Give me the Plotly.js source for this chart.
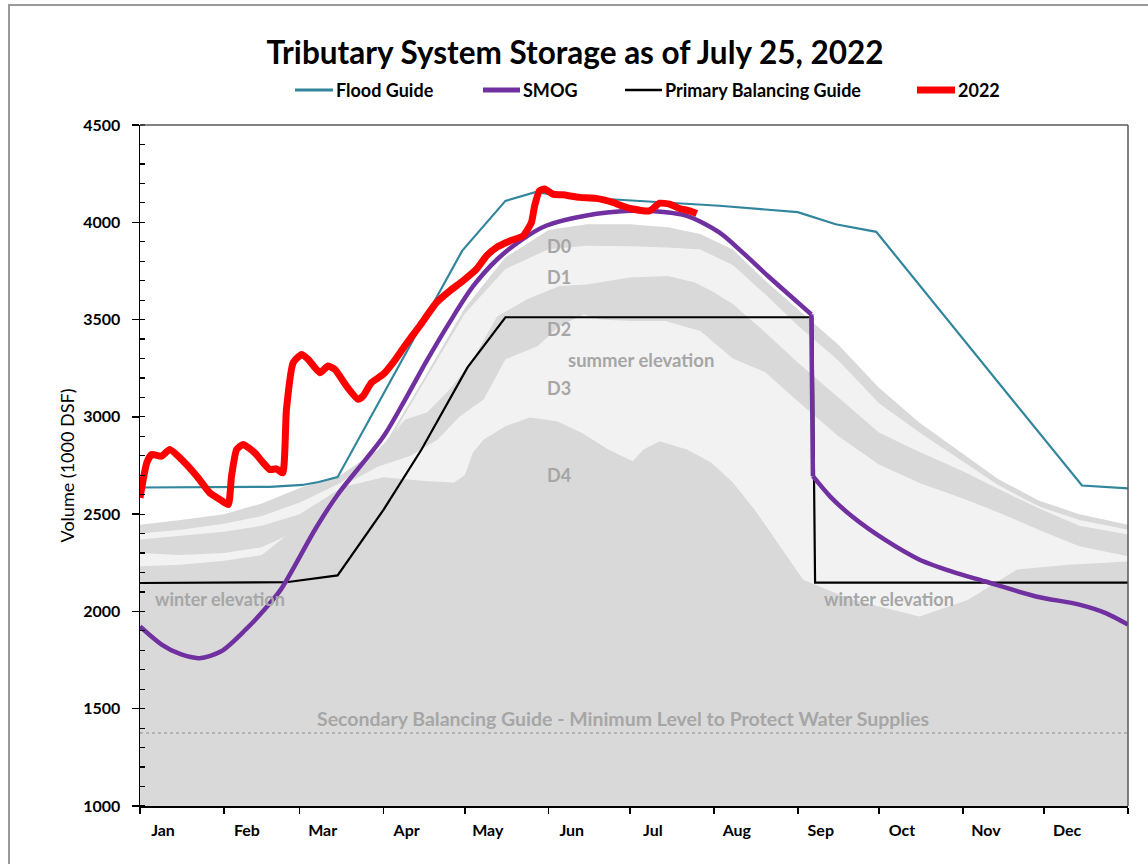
<!DOCTYPE html>
<html>
<head>
<meta charset="utf-8">
<script src="https://cdn.plot.ly/plotly-3.0.1.min.js"></script>
<style>
  html, body { margin: 0; padding: 0; background: #ffffff; }
  #chart { width: 1148px; height: 864px; position: absolute; left: 0; top: 0; }
  #frame { position: absolute; left: 8px; top: 4px; width: 1160px; height: 880px;
           border-left: 2px solid #9a9a9a; border-top: 2px solid #9a9a9a; pointer-events: none; }
</style>
</head>
<body>
<div id="chart"></div>
<div id="frame"></div>
<script>
// ---------------- DATA (day of year, volume in 1000 DSF) ----------------
const monthNames  = ['Jan','Feb','Mar','Apr','May','Jun','Jul','Aug','Sep','Oct','Nov','Dec'];
const monthStarts = [0,31,59,90,120,151,181,212,243,273,304,334,365];

// Flood Guide
const floodDays = [0, 20, 48, 60, 66, 73, 119, 135, 146, 160, 177, 214, 243, 257, 272, 348, 365];
const floodVals = [2637, 2637, 2640, 2650, 2665, 2690, 3853, 4110, 4155, 4130, 4115, 4085, 4052, 3990, 3951, 2647, 2632];

// Primary Balancing Guide
const pbgDays = [0, 54, 73, 90, 104, 121, 135, 248.4, 249.4, 365];
const pbgVals = [2146, 2150, 2185, 2523, 2832, 3254, 3512, 3512, 2148, 2148];

// SMOG (filling season up to the September drop, then drawdown season)
const smogDays = [0,8,15,22,30,39,46,52,65,73,90,98,106,115,123,132,141,150,165,181,189,202,214,223,232,240,248,248.6,255,263,275,288,300,312,331,347,357,365];
const smogVals = [1923,1830,1780,1760,1795,1906,2010,2112,2429,2600,2900,3090,3290,3500,3670,3810,3910,3982,4035,4059,4058,4033,3948,3840,3724,3625,3527,2695,2590,2489,2370,2266,2205,2155,2077,2035,1990,1932];
const smogDropIndex = 27;   // first point after the September drop

// 2022 observed storage
const obsDays = [0,2.5,4.3,8,11,16,21,25.8,29.5,32.6,33.8,35.7,38.1,42.4,45.5,48,50.4,52.7,54.1,56.6,59.7,62.1,66.4,69.5,72,76.3,80.6,82.4,85.5,89.8,93.5,97.8,103.3,109.5,114.4,119.3,124.3,128,131.6,136.6,141.5,144.6,145.8,147.6,149.5,152.5,156.2,162.4,168.5,174.7,178,182,188.2,192,195.6,199.3,203,205.7];
const obsVals = [2584,2764,2807,2798,2832,2772,2695,2609,2575,2549,2695,2832,2858,2815,2764,2729,2733,2712,3038,3279,3321,3296,3227,3261,3244,3158,3090,3107,3176,3218,3279,3364,3467,3587,3647,3699,3759,3827,3870,3904,3930,3999,4085,4162,4171,4145,4141,4128,4123,4102,4085,4068,4059,4098,4093,4071,4059,4045];

// Secondary Balancing Guide
const secDays = [0, 365];
const secVals = [1375, 1375];

// Drought-zone band upper boundaries
const bandDays = [0,15,31,45,59,74,90,105,120,135,151,165,181,195,207,219,231,243,258,273,288,304,317,332,347,365];
const d0Top    = [2446,2470,2500,2555,2635,2700,2850,3200,3560,3820,3960,3990,3990,3975,3940,3860,3700,3555,3370,3150,2970,2810,2680,2570,2500,2446];
const d1Top    = [2400,2420,2450,2490,2560,2660,2830,3180,3530,3760,3862,3879,3877,3870,3860,3780,3630,3470,3290,3070,2920,2770,2650,2540,2470,2420];

const d2Days = [0,15,31,45,59,74,86,98,106,115,123,132,143,155,165,181,195,205,212,219,231,243,258,273,288,304,317,332,347,365];
const d2Top  = [2370,2390,2410,2440,2500,2630,2800,2987,3023,3150,3296,3517,3604,3673,3680,3716,3724,3690,3640,3580,3434,3280,3100,2920,2820,2720,2630,2530,2440,2395];

const d3Days = [0,15,31,45,59,74,88,100,110,118,127,135,147,155,164,170,182,194,207,219,231,243,258,273,288,304,317,332,347,365];
const d3Top  = [2300,2290,2300,2330,2420,2640,2745,2800,2884,3000,3090,3296,3364,3467,3527,3501,3493,3493,3441,3300,3229,3080,2900,2755,2660,2580,2510,2420,2335,2283];

const d4Days = [0,15,31,45,55,65,75,90,105,116,120,123,127,135,144,154,163,173,182,186,192,202,211,219,227,245,263,288,306,324,343,365];
const d4Top  = [2232,2240,2260,2290,2400,2550,2640,2690,2670,2662,2700,2817,2884,2952,2997,2978,2920,2832,2772,2832,2875,2832,2765,2662,2524,2163,2060,1974,2060,2215,2240,2257];

// ---------------- STYLE ----------------
const DARK = '#d9d9d9', LIGHT = '#f2f2f2', LABEL = '#a6a6a6';
const FONT = 'Lato, "Open Sans", "DejaVu Sans", sans-serif';
const L = 140, R = 1128, T = 125, B = 806;
const px = x => (x - L) / (R - L);
const py = y => (B - y) / (B - T);

function band(xs, ys, color) {
  return { x: xs, y: ys, type: 'scatter', mode: 'lines', fill: 'tozeroy',
           fillcolor: color, line: { width: 0, color: color }, hoverinfo: 'skip', showlegend: false };
}
function line(xs, ys, color, width, opts) {
  opts = opts || {};
  return { x: xs, y: ys, type: 'scatter', mode: 'lines',
           line: { color: color, width: width, dash: opts.dash || 'solid',
                   shape: opts.spline ? 'spline' : 'linear', smoothing: opts.spline || 0 },
           showlegend: false };
}

const k = smogDropIndex;
const traces = [
  band(bandDays, d0Top, DARK),
  band(bandDays, d1Top, LIGHT),
  band(d2Days, d2Top, DARK),
  band(d3Days, d3Top, LIGHT),
  band(d4Days, d4Top, DARK),
  line(secDays, secVals, '#a6a6a6', 1.5, { dash: 'dot' }),
  line(floodDays, floodVals, '#31859c', 2.2),
  line(pbgDays, pbgVals, '#000000', 2.2),
  line(smogDays.slice(0, k), smogVals.slice(0, k), '#7030a0', 4.5, { spline: 0.8 }),
  line(smogDays.slice(k - 1, k + 1), smogVals.slice(k - 1, k + 1), '#7030a0', 4.5),
  line(smogDays.slice(k), smogVals.slice(k), '#7030a0', 4.5, { spline: 0.8 }),
  line(obsDays, obsVals, '#ff0000', 7, { spline: 0.5 })
];

const monthTicks = monthNames.map((m, i) => monthStarts[i] + 8.5);

const labelFont = (size) => ({ family: FONT, size: size, color: LABEL, weight: 'bold' });
const annotations = [
  { x: 149.5, y: 3877, text: 'D0', xanchor: 'left', font: labelFont(18) },
  { x: 149.5, y: 3718, text: 'D1', xanchor: 'left', font: labelFont(18) },
  { x: 149.5, y: 3450, text: 'D2', xanchor: 'left', font: labelFont(18) },
  { x: 149.5, y: 3146, text: 'D3', xanchor: 'left', font: labelFont(18) },
  { x: 149.5, y: 2699, text: 'D4', xanchor: 'left', font: labelFont(18) },
  { x: 184.9, y: 3290, text: 'summer elevation', xanchor: 'center', font: labelFont(18.5) },
  { x: 4.8,   y: 2065, text: 'winter elevation', xanchor: 'left', font: labelFont(18) },
  { x: 252,   y: 2065, text: 'winter elevation', xanchor: 'left', font: labelFont(18) },
  { x: 178.6, y: 1448, text: 'Secondary Balancing Guide - Minimum Level to Protect Water Supplies', xanchor: 'center', font: labelFont(19.5) }
].map(a => Object.assign({ xref: 'x', yref: 'y', yanchor: 'middle', showarrow: false }, a));

// custom legend
const legendItems = [
  { x0: 295, x1: 333, color: '#31859c', w: 3,   text: 'Flood Guide' },
  { x0: 483, x1: 520, color: '#7030a0', w: 5,   text: 'SMOG' },
  { x0: 625, x1: 662, color: '#000000', w: 2.5, text: 'Primary Balancing Guide' },
  { x0: 917, x1: 955, color: '#ff0000', w: 7,   text: '2022' }
];
const LEGY = 90;
const shapes = [];
legendItems.forEach(it => {
  shapes.push({ type: 'line', xref: 'paper', yref: 'paper', x0: px(it.x0), x1: px(it.x1), y0: py(LEGY), y1: py(LEGY),
                line: { color: it.color, width: it.w } });
  annotations.push({ xref: 'paper', yref: 'paper', x: px(it.x1 + 1), y: py(LEGY), xanchor: 'left', yanchor: 'middle',
                     showarrow: false, text: it.text, font: { family: FONT, size: 18, color: '#000', weight: 'bold' } });
});
// top / right border of plot area
shapes.push({ type: 'line', xref: 'paper', yref: 'paper', x0: 0, x1: 1, y0: 1, y1: 1, line: { color: '#595959', width: 1.5 } });
shapes.push({ type: 'line', xref: 'paper', yref: 'paper', x0: 1, x1: 1, y0: 0, y1: 1, line: { color: '#595959', width: 1.5 } });

const layout = {
  width: 1148, height: 864,
  margin: { l: L, r: 1148 - R, t: T, b: 864 - B },
  paper_bgcolor: '#ffffff', plot_bgcolor: '#ffffff',
  showlegend: false,
  title: { text: 'Tributary System Storage as of July 25, 2022', xref: 'container', yref: 'container',
           x: 575 / 1148, y: 1 - 53 / 864, xanchor: 'center', yanchor: 'middle',
           font: { family: FONT, size: 31.5, color: '#000', weight: 'bold' } },
  xaxis: {
    range: [0, 365], showgrid: false, zeroline: false,
    showline: true, linecolor: '#000', linewidth: 1.5,
    tickmode: 'array', tickvals: monthTicks, ticktext: monthNames, ticks: '',
    ticklabelstandoff: 9,
    tickfont: { family: FONT, size: 16, color: '#000', weight: 'bold' },
    minor: { tickmode: 'array', tickvals: monthStarts, ticks: 'outside', ticklen: 6, tickwidth: 1.5, tickcolor: '#000' }
  },
  yaxis: {
    range: [1000, 4500], showgrid: false, zeroline: false,
    showline: true, linecolor: '#000', linewidth: 1.5,
    tickmode: 'linear', tick0: 1000, dtick: 500, ticks: 'outside', ticklen: 7, tickwidth: 1.5, tickcolor: '#000',
    ticklabelstandoff: 8,
    tickfont: { family: FONT, size: 16, color: '#000', weight: 'bold' },
    minor: { dtick: 100, ticks: 'inside', ticklen: 5, tickwidth: 1.2, tickcolor: '#000' },
    title: { text: 'Volume (1000 DSF)', font: { family: FONT, size: 18, color: '#000' }, standoff: 4 }
  },
  annotations: annotations,
  shapes: shapes
};

Plotly.newPlot('chart', traces, layout, { displayModeBar: false, staticPlot: true });
</script>
</body>
</html>
